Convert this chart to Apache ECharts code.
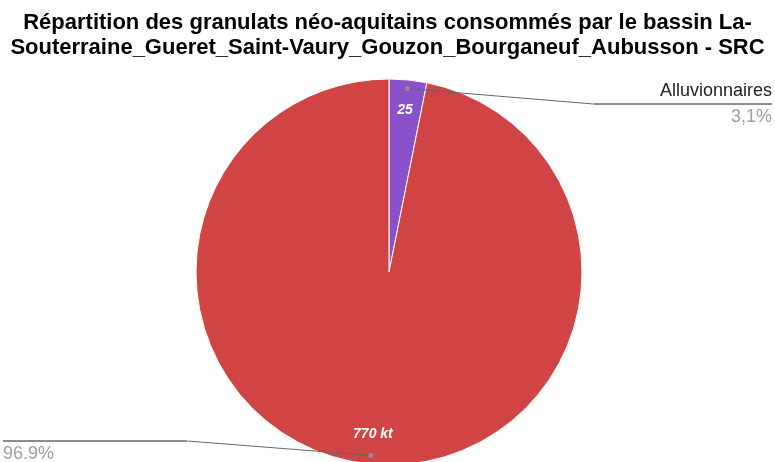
<!DOCTYPE html>
<html>
<head>
<meta charset="utf-8">
<script src="https://cdn.jsdelivr.net/npm/echarts@6/dist/echarts.min.js"></script>
<style>
html,body{margin:0;padding:0;background:#fff;}
#chart{width:775px;height:462px;}
</style>
</head>
<body>
<div id="chart"></div>
<script>
const titleText = 'Répartition des granulats néo-aquitains consommés par le bassin La-\nSouterraine_Gueret_Saint-Vaury_Gouzon_Bourganeuf_Aubusson - SRC';
const categories = ['Alluvionnaires', ''];
const values = [25, 770];
const valueLabels = ['25', '770 kt'];
const percentLabels = ['3,1%', '96.9%'];
const colors = ['#8a50c8', '#d04443'];

const CX = 389, CY = 272, R = 193;
const DOT = 0.955;
const labelY = [104, 441];

const total = values.reduce((a, b) => a + b, 0);
const mids = [];
let acc = 0;
values.forEach(v => { mids.push(acc + v / 2); acc += v; });

const chart = echarts.init(document.getElementById('chart'), null, {renderer: 'canvas'});

const mainData = categories.map((c, i) => ({
  name: c,
  value: values[i],
  itemStyle: {color: colors[i]}
}));

const innerData = categories.map((c, i) => ({
  name: c,
  value: values[i],
  label: {formatter: valueLabels[i]}
}));

const outerData = categories.map((c, i) => ({
  name: c,
  value: values[i],
  label: {
    rich: {
      name: {fontSize: 18, color: '#222', lineHeight: 26, align: i === 0 ? 'right' : 'left', fontFamily: 'Liberation Sans'},
      hr: {width: i === 0 ? 178 : 184, height: 0, borderColor: '#666', borderWidth: 1},
      pct: {fontSize: 18, color: '#9e9e9e', lineHeight: 26, align: i === 0 ? 'right' : 'left', fontFamily: 'Liberation Sans'}
    }
  }
}));

chart.setOption({
  animation: false,
  backgroundColor: '#fff',
  title: {
    text: titleText,
    left: 'center',
    top: 5,
    textStyle: {fontFamily: 'Liberation Sans', fontSize: 22, fontWeight: 'bold', color: '#000', lineHeight: 25}
  },
  polar: {center: [CX, CY], radius: R},
  angleAxis: {type: 'value', min: 0, max: total, startAngle: 90, clockwise: true, show: false},
  radiusAxis: {type: 'value', min: 0, max: 1, show: false},
  series: [
    {
      type: 'pie',
      z: 1,
      center: [CX, CY],
      radius: [0, R],
      startAngle: 90,
      clockwise: true,
      silent: true,
      itemStyle: {borderColor: '#fff', borderWidth: 1},
      emphasis: {disabled: true},
      data: mainData,
      label: {show: false},
      labelLine: {show: false}
    },
    {
      type: 'pie',
      z: 3,
      center: [CX, CY],
      radius: [0, R],
      startAngle: 90,
      clockwise: true,
      silent: true,
      avoidLabelOverlap: false,
      itemStyle: {color: 'rgba(0,0,0,0)'},
      emphasis: {disabled: true},
      data: outerData,
      label: {
        show: true,
        position: 'outer',
        alignTo: 'edge',
        edgeDistance: 3,
        formatter: p => '{name|' + p.name + '}\n{hr|}\n{pct|' + percentLabels[p.dataIndex] + '}'
      },
      labelLine: {show: true, length: 5, length2: 10, lineStyle: {color: '#666', width: 1}},
      labelLayout: function (params) {
        const i = params.dataIndex;
        const pts = params.labelLinePoints;
        if (!pts) return {};
        const p0 = pts[0];
        const start = [CX + (p0[0] - CX) * DOT, CY + (p0[1] - CY) * DOT];
        const y = labelY[i];
        const r = params.labelRect;
        const endX = i === 0 ? r.x : r.x + r.width;
        return {
          y: y,
          labelLinePoints: [start, [endX, y], [endX, y]]
        };
      }
    },
    {
      type: 'pie',
      z: 4,
      center: [CX, CY],
      radius: [127, R],
      startAngle: 90,
      clockwise: true,
      silent: true,
      itemStyle: {color: 'rgba(0,0,0,0)'},
      emphasis: {disabled: true},
      data: innerData,
      label: {
        show: true,
        position: 'inside',
        color: '#fff',
        fontSize: 14,
        fontStyle: 'italic',
        fontWeight: 'bold',
        fontFamily: 'Liberation Sans'
      },
      labelLine: {show: false}
    },
    {
      type: 'scatter',
      coordinateSystem: 'polar',
      silent: true,
      z: 6,
      symbol: 'circle',
      symbolSize: 5,
      itemStyle: {color: '#999'},
      data: mids.map(m => [DOT, m])
    }
  ]
});
</script>
</body>
</html>
